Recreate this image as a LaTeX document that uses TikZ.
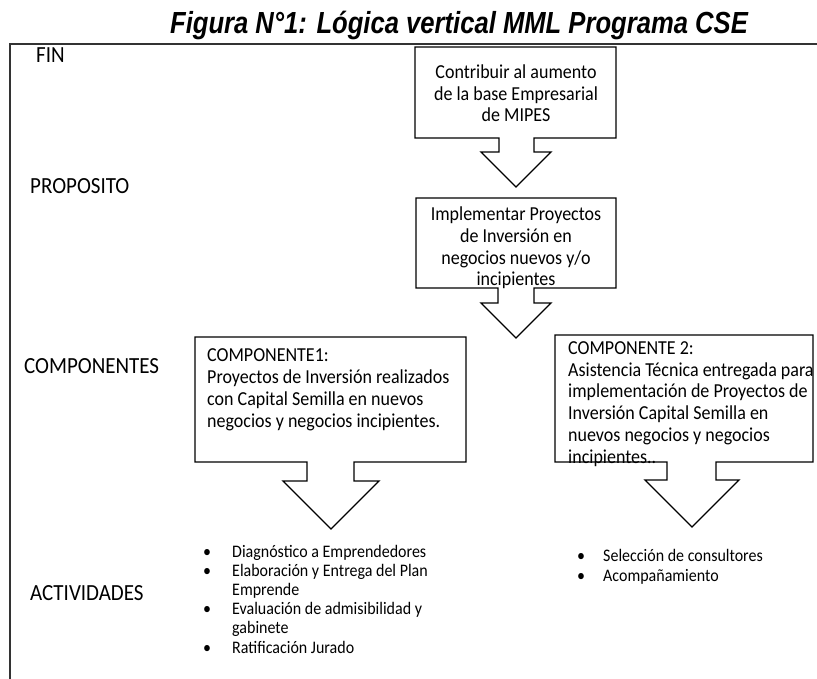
\documentclass[tikz,border=0pt]{standalone}
\usepackage{fontspec}
\setmainfont{Carlito}
\newfontfamily\titlefont{Liberation Sans}
\begin{document}
\begin{tikzpicture}[x=1pt,y=-1pt,
  frame/.style={line width=1.1pt, draw=black!80},
  callout/.style={line width=1.3pt, line join=miter},
  tall/.style={yscale=1.1},
  boxtext/.style={tall, inner sep=0pt, font=\fontsize{18}{19.7}\selectfont},
  levellabel/.style={tall, inner sep=0pt, anchor=base west, font=\fontsize{21}{24}\selectfont},
  bullets/.style={tall, inner sep=0pt, anchor=base west, align=left, font=\fontsize{16}{17.3}\selectfont},
  titletext/.style={inner sep=0pt, anchor=base, xscale=0.84, font=\titlefont\bfseries\itshape\fontsize{30.5}{33}\selectfont}
]
\useasboundingbox (0,0) rectangle (817,679);

% title
\node[titletext] (title) at (459,34) {Figura N°1: Lógica vertical MML Programa CSE};

% open frame
\draw[frame] (817,44) -- (10,44) -- (10,679);

% level labels
\node[levellabel] (fin) at (36,63) {FIN};
\node[levellabel] (prop) at (30,194) {PROPOSITO};
\node[levellabel] (comp) at (24,373) {COMPONENTES};
\node[levellabel] (act) at (30,600) {ACTIVIDADES};

% down-arrow callouts: box, stem and head
% #1 left, #2 top, #3 right, #4 bottom, #5 stem left, #6 stem right,
% #7 head base, #8 head left, #9 head right; tip in the middle of the head
\newcommand\arrowcallout[9]{%
  \draw[callout] (#1,#2) -- (#3,#2) -- (#3,#4) -- (#6,#4) -- (#6,#7) -- (#9,#7)
    -- ({(#8+#9)/2},{#7+(#9-#8)/2}) -- (#8,#7) -- (#5,#7) -- (#5,#4) -- (#1,#4) -- cycle;}

\arrowcallout{415}{47}{616}{138}{499}{534}{152}{481}{551}
\arrowcallout{416}{198}{616}{288}{498}{534}{303}{481}{551}
\arrowcallout{195}{337}{466}{462}{307}{354}{481}{283}{379}
\arrowcallout{555}{335}{813}{462}{667}{716}{480}{645}{739}

% texts of the callouts (placed by the baseline of their last line)
\node[boxtext, anchor=base, align=center] (fintext) at (516,122)
  {Contribuir al aumento\\de la base Empresarial\\de MIPES};
\node[boxtext, anchor=base, align=center] (proptext) at (516,286)
  {Implementar Proyectos\\de Inversión en\\negocios nuevos y/o\\incipientes};
\node[boxtext, anchor=base west, align=left] (comp1) at (207,427)
  {COMPONENTE1:\\Proyectos de Inversión realizados\\con Capital Semilla en nuevos\\negocios y negocios incipientes.};
\node[boxtext, anchor=base west, align=left] (comp2) at (568,463)
  {COMPONENTE 2:\\Asistencia Técnica entregada para\\implementación de Proyectos de\\Inversión Capital Semilla en\\nuevos negocios y negocios\\incipientes..};

% activity lists
\node[bullets] (act1) at (203,653)
  {\makebox[29pt][l]{•}Diagnóstico a Emprendedores\\
   \makebox[29pt][l]{•}Elaboración y Entrega del Plan\\
   \hspace*{29pt}Emprende\\
   \makebox[29pt][l]{•}Evaluación de admisibilidad y\\
   \hspace*{29pt}gabinete\\
   \makebox[29pt][l]{•}Ratificación Jurado};
\node[bullets] (act2) at (577,581)
  {\makebox[26pt][l]{•}Selección de consultores\\
   \makebox[26pt][l]{•}Acompañamiento};
\end{tikzpicture}
\end{document}
